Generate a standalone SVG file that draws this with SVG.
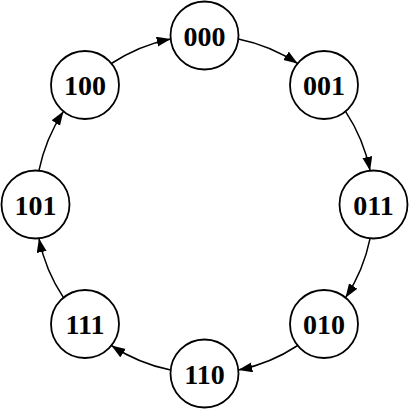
<svg xmlns="http://www.w3.org/2000/svg" width="411" height="411" viewBox="0 0 411 411">
<style>
.node circle{fill:#fff;stroke:#000;stroke-width:1.8}
.node text{font-family:"Liberation Serif","Times New Roman",serif;font-weight:bold;font-size:28px;text-anchor:middle;fill:#000}
.edge{fill:none;stroke:#000;stroke-width:1.5}
</style>
<defs>
<marker id="ah" markerUnits="userSpaceOnUse" markerWidth="15" markerHeight="11" refX="14" refY="5" orient="auto">
<path d="M0,0 L14,5 L0,10 z" fill="#000"/>
</marker>
</defs>
<rect width="411" height="411" fill="#fff"/>
<g id="connectors">
<path class="edge" marker-end="url(#ah)" d="M238.3,38.9 A169,169 0 0 1 297.7,63.5"/>
<path class="edge" marker-end="url(#ah)" d="M345.5,111.35 A169,169 0 0 1 370.1,170.7"/>
<path class="edge" marker-end="url(#ah)" d="M370.1,238.3 A169,169 0 0 1 345.5,297.7"/>
<path class="edge" marker-end="url(#ah)" d="M297.7,345.5 A169,169 0 0 1 238.3,370.1"/>
<path class="edge" marker-end="url(#ah)" d="M170.7,370.1 A169,169 0 0 1 111.35,345.5"/>
<path class="edge" marker-end="url(#ah)" d="M63.5,297.7 A169,169 0 0 1 38.9,238.3"/>
<path class="edge" marker-end="url(#ah)" d="M38.9,170.7 A169,169 0 0 1 63.5,111.35"/>
<path class="edge" marker-end="url(#ah)" d="M111.35,63.5 A169,169 0 0 1 170.7,38.9"/>
</g>
<g id="n000" class="node"><circle cx="204.5" cy="35.5" r="34"/><text x="204.5" y="45.5">000</text></g>
<g id="n001" class="node"><circle cx="324" cy="85" r="34"/><text x="324" y="95">001</text></g>
<g id="n011" class="node"><circle cx="373.5" cy="204.5" r="34"/><text x="373.5" y="214.5">011</text></g>
<g id="n010" class="node"><circle cx="324" cy="324" r="34"/><text x="324" y="334">010</text></g>
<g id="n110" class="node"><circle cx="204.5" cy="373.5" r="34"/><text x="204.5" y="383.5">110</text></g>
<g id="n111" class="node"><circle cx="85" cy="324" r="34"/><text x="85" y="334">111</text></g>
<g id="n101" class="node"><circle cx="35.5" cy="204.5" r="34"/><text x="35.5" y="214.5">101</text></g>
<g id="n100" class="node"><circle cx="85" cy="85" r="34"/><text x="85" y="95">100</text></g>
</svg>
